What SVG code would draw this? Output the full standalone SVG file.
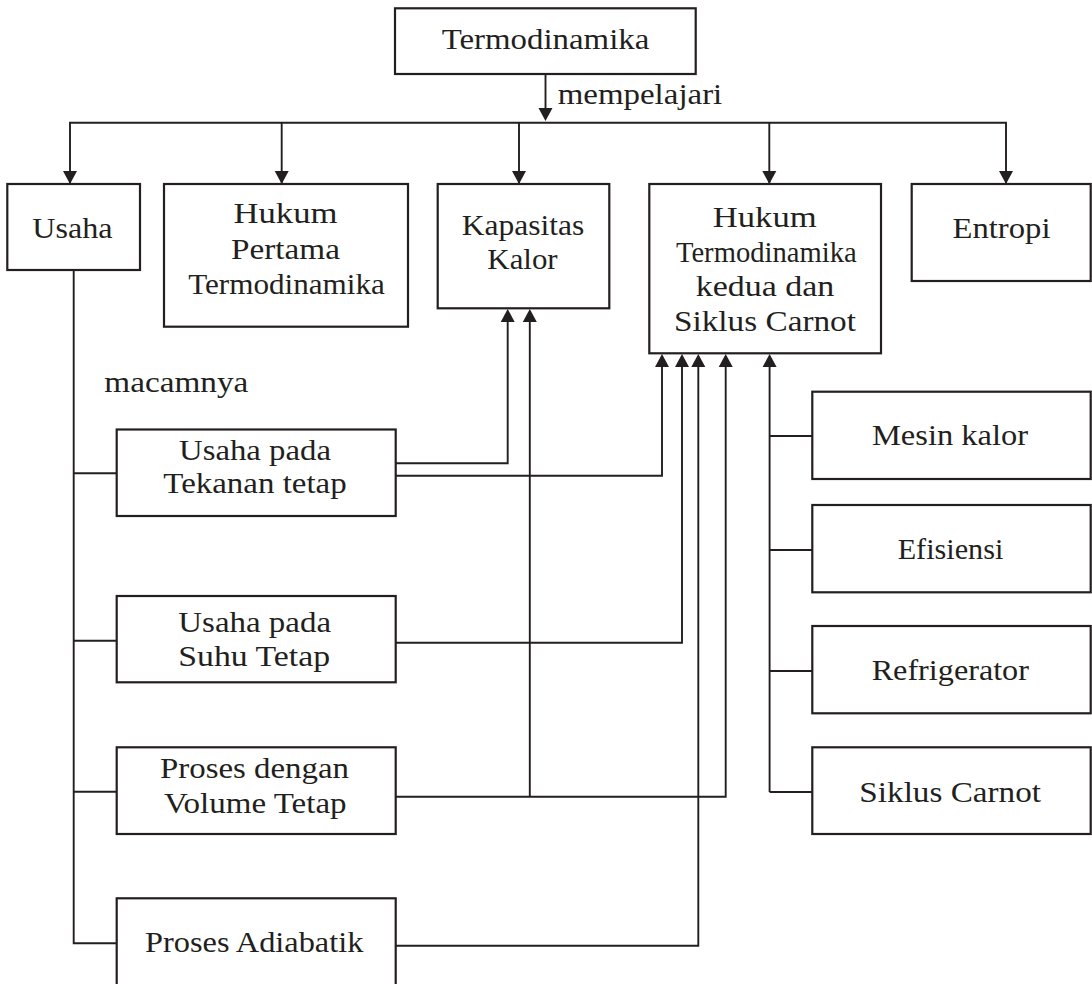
<svg xmlns="http://www.w3.org/2000/svg" width="1092" height="984" viewBox="0 0 1092 984">
<style>
.box{fill:#fff;stroke:#231f20;stroke-width:2.2}
.ln{fill:none;stroke:#231f20;stroke-width:1.9}
.ah{fill:#231f20}
.t{font-family:"Liberation Serif","Times New Roman",serif;font-size:30px;font-weight:normal;fill:#231f20;text-anchor:middle}
.ts{font-family:"Liberation Serif","Times New Roman",serif;font-size:30px;font-weight:normal;fill:#231f20;text-anchor:start}
</style>
<rect width="1092" height="984" fill="#fff"/>

<g id="connectors">
<path class="ln" d="M545.5,74 V108"/>
<path class="ah" d="M538.5,108 L552.5,108 L545.5,121 Z"/>
<path class="ln" d="M70,183 V122.7 H1006 V183"/>
<path class="ln" d="M281.7,122.7 V183"/>
<path class="ln" d="M519,122.7 V183"/>
<path class="ln" d="M769.3,122.7 V183"/>
<path class="ah" d="M63,171 L77,171 L70,184 Z"/>
<path class="ah" d="M274.7,171 L288.7,171 L281.7,184 Z"/>
<path class="ah" d="M512,171 L526,171 L519,184 Z"/>
<path class="ah" d="M762.3,171 L776.3,171 L769.3,184 Z"/>
<path class="ah" d="M999,171 L1013,171 L1006,184 Z"/>
<path class="ln" d="M73.7,270 V943.3 H116.7"/>
<path class="ln" d="M73.7,473.3 H116.7"/>
<path class="ln" d="M73.7,640.7 H116.7"/>
<path class="ln" d="M73.7,791.7 H116.7"/>
<path class="ln" d="M395.7,463.3 H507.7 V321"/>
<path class="ah" d="M500.7,322 L514.7,322 L507.7,309 Z"/>
<path class="ln" d="M529.8,796.7 V321"/>
<path class="ah" d="M522.8,322 L536.8,322 L529.8,309 Z"/>
<path class="ln" d="M395.7,475.8 H662 V366"/>
<path class="ah" d="M655,367 L669,367 L662,354 Z"/>
<path class="ln" d="M395.7,642.7 H682 V366"/>
<path class="ah" d="M675,367 L689,367 L682,354 Z"/>
<path class="ln" d="M395.7,945.7 H698.3 V366"/>
<path class="ah" d="M691.3,367 L705.3,367 L698.3,354 Z"/>
<path class="ln" d="M395.7,796.7 H725.7 V366"/>
<path class="ah" d="M718.7,367 L732.7,367 L725.7,354 Z"/>
<path class="ln" d="M769.6,792 V366"/>
<path class="ah" d="M762.6,367 L776.6,367 L769.6,354 Z"/>
<path class="ln" d="M769.6,436 H812.3"/>
<path class="ln" d="M769.6,550 H812.3"/>
<path class="ln" d="M769.6,671 H812.3"/>
<path class="ln" d="M769.6,792 H812.3"/>
<text class="ts" x="557.7" y="104" textLength="164.6" lengthAdjust="spacingAndGlyphs">mempelajari</text>
<text class="ts" x="104.3" y="391.7" textLength="144" lengthAdjust="spacingAndGlyphs">macamnya</text>
</g>

<g id="n-termodinamika">
<rect class="box" x="395" y="8.3" width="300.7" height="65.7"/>
<text class="t" x="545.5" y="49.3" textLength="207.6" lengthAdjust="spacingAndGlyphs">Termodinamika</text>
</g>
<g id="n-usaha">
<rect class="box" x="7.3" y="184" width="132.7" height="86"/>
<text class="t" x="72.5" y="238.3" textLength="80.3" lengthAdjust="spacingAndGlyphs">Usaha</text>
</g>
<g id="n-hukum-pertama">
<rect class="box" x="164" y="184" width="244" height="142.7"/>
<text class="t" x="285.5" y="223.3" textLength="104" lengthAdjust="spacingAndGlyphs">Hukum</text>
<text class="t" x="285.5" y="259.3" textLength="109" lengthAdjust="spacingAndGlyphs">Pertama</text>
<text class="t" x="286.5" y="294" textLength="196.7" lengthAdjust="spacingAndGlyphs">Termodinamika</text>
</g>
<g id="n-kapasitas">
<rect class="box" x="437.7" y="184" width="171.6" height="124.3"/>
<text class="t" x="523" y="235" textLength="122.7" lengthAdjust="spacingAndGlyphs">Kapasitas</text>
<text class="t" x="522.5" y="269.3" textLength="70.3" lengthAdjust="spacingAndGlyphs">Kalor</text>
</g>
<g id="n-hukum-kedua">
<rect class="box" x="649.3" y="184" width="231.7" height="169.3"/>
<text class="t" x="764.7" y="226.7" textLength="104" lengthAdjust="spacingAndGlyphs">Hukum</text>
<text class="t" x="766.3" y="261.7" textLength="180.7" lengthAdjust="spacingAndGlyphs">Termodinamika</text>
<text class="t" x="765" y="296" textLength="138.7" lengthAdjust="spacingAndGlyphs">kedua dan</text>
<text class="t" x="765" y="331" textLength="182" lengthAdjust="spacingAndGlyphs">Siklus Carnot</text>
</g>
<g id="n-entropi">
<rect class="box" x="911.7" y="184" width="179" height="97"/>
<text class="t" x="1001.5" y="238.3" textLength="98" lengthAdjust="spacingAndGlyphs">Entropi</text>
</g>
<g id="n-tekanan">
<rect class="box" x="116.7" y="429.5" width="279" height="86.5"/>
<text class="t" x="255" y="460" textLength="152" lengthAdjust="spacingAndGlyphs">Usaha pada</text>
<text class="t" x="255" y="493.3" textLength="183.3" lengthAdjust="spacingAndGlyphs">Tekanan tetap</text>
</g>
<g id="n-suhu">
<rect class="box" x="116.7" y="596" width="279" height="86.3"/>
<text class="t" x="254.7" y="631.7" textLength="152.7" lengthAdjust="spacingAndGlyphs">Usaha pada</text>
<text class="t" x="254.2" y="666" textLength="151.7" lengthAdjust="spacingAndGlyphs">Suhu Tetap</text>
</g>
<g id="n-volume">
<rect class="box" x="116.7" y="747.3" width="279" height="86.7"/>
<text class="t" x="254.5" y="778" textLength="189" lengthAdjust="spacingAndGlyphs">Proses dengan</text>
<text class="t" x="255.3" y="813" textLength="182.7" lengthAdjust="spacingAndGlyphs">Volume Tetap</text>
</g>
<g id="n-adiabatik">
<rect class="box" x="116.7" y="898.3" width="279" height="100"/>
<text class="t" x="254.2" y="951.7" textLength="218.3" lengthAdjust="spacingAndGlyphs">Proses Adiabatik</text>
</g>
<g id="n-mesin">
<rect class="box" x="812.3" y="391.7" width="278.4" height="87.3"/>
<text class="t" x="950" y="445" textLength="156" lengthAdjust="spacingAndGlyphs">Mesin kalor</text>
</g>
<g id="n-efisiensi">
<rect class="box" x="812.3" y="505" width="278.4" height="87.3"/>
<text class="t" x="950.5" y="559" textLength="105.7" lengthAdjust="spacingAndGlyphs">Efisiensi</text>
</g>
<g id="n-refrigerator">
<rect class="box" x="812.3" y="626" width="278.4" height="87.3"/>
<text class="t" x="950.3" y="680" textLength="157.3" lengthAdjust="spacingAndGlyphs">Refrigerator</text>
</g>
<g id="n-siklus">
<rect class="box" x="812.3" y="747.3" width="278.4" height="86.7"/>
<text class="t" x="950.2" y="801.7" textLength="181.7" lengthAdjust="spacingAndGlyphs">Siklus Carnot</text>
</g>
</svg>
